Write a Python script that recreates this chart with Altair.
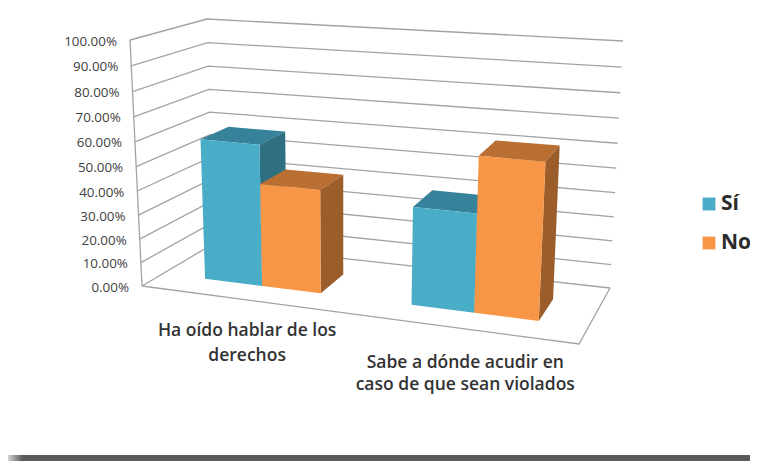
import altair as alt
import pandas as pd

# ---- chart values
categories = ["Ha oído hablar de los derechos", "Sabe a dónde acudir en caso de que sean violados"]
category_lines = [["Ha oído hablar de los", "derechos"], ["Sabe a dónde acudir en", "caso de que sean violados"]]
series = ["Sí", "No"]
si_values = [59, 40]
no_values = [43, 62.5]
ticks = [0, 10, 20, 30, 40, 50, 60, 70, 80, 90, 100]
tick_labels = [f"{t}.00%" for t in ticks]

# ---- 3D box of the plot, in picture pixels: (front/back, left/right, bottom/top)
FLB, FRB, BLB, BRB = (142, 286), (579, 344), (213, 244), (610, 288)
FLT, FRT, BLT, BRT = (130, 40), (593, 74), (207, 19), (623, 41)
PERSP_X, PERSP_Y = 1.10, 1.06
DEPTH = (0.3, 0.7)
BAR = 0.143
CENTERS = [0.25, 0.75]

colors = {
    "Sí front": "#4AADC8", "Sí top": "#35829A", "Sí side": "#2F6F82",
    "No front": "#F79646", "No top": "#B96F31", "No side": "#9B5D29",
}


def lerp(a, b, k):
    return (a[0] + (b[0] - a[0]) * k, a[1] + (b[1] - a[1]) * k)


def project(t, val, w):
    u = t / (t + (1 - t) * PERSP_X)
    p = val / 100
    v = p / (p + (1 - p) * PERSP_Y)
    bottom = lerp(lerp(FLB, FRB, u), lerp(BLB, BRB, u), w)
    top = lerp(lerp(FLT, FRT, u), lerp(BLT, BRT, u), w)
    return lerp(bottom, top, v)


# walls and floor
lines = []


def add_line(key, pts):
    for i, (x, y) in enumerate(pts):
        lines.append({"key": key, "ord": i, "x": x, "y": y})


for t in ticks:
    add_line(f"grid{t}", [project(0, t, 0), project(0, t, 1), project(1, t, 1)])
add_line("front-vertical", [project(0, 0, 0), project(0, 100, 0)])
add_line("floor", [project(0, 0, 0), project(1, 0, 0), project(1, 0, 1)])
lines_df = pd.DataFrame(lines)

# bars
faces = []


def add_face(key, shade, pts):
    for i, (x, y) in enumerate(pts):
        faces.append({"key": key, "ord": i, "x": x, "y": y, "shade": shade})


w0, w1 = DEPTH
for c, center in enumerate(CENTERS):
    for s, (name, vals) in enumerate(zip(series, [si_values, no_values])):
        a = center - BAR + s * BAR
        b = a + BAR
        val = vals[c]
        k = f"{c}{s}"
        add_face(k + "a", f"{name} top", [project(a, val, w0), project(b, val, w0), project(b, val, w1), project(a, val, w1)])
        add_face(k + "b", f"{name} side", [project(b, 0, w0), project(b, val, w0), project(b, val, w1), project(b, 0, w1)])
        add_face(k + "c", f"{name} front", [project(a, 0, w0), project(b, 0, w0), project(b, val, w0), project(a, val, w0)])
faces_df = pd.DataFrame(faces)

# text
tick_df = pd.DataFrame(
    [{"x": project(0, t, 0)[0], "y": project(0, t, 0)[1], "label": l} for t, l in zip(ticks, tick_labels)]
)
cat_rows = []
for center, rows in zip(CENTERS, category_lines):
    ax, ay = project(center, 0, 0)
    for i, line in enumerate(rows):
        cat_rows.append({"x": ax + 3.5, "y": ay + (32 if center < 0.5 else 35) + i * (25 if center < 0.5 else 22), "label": line})
cat_df = pd.DataFrame(cat_rows)

legend_x = [709, 709]
legend_text_x = [721, 721]
legend_y = [204, 243]
legend_df = pd.DataFrame({"x": legend_x, "tx": legend_text_x, "y": legend_y, "name": series})

strip_df = pd.DataFrame({"x": [3], "x2": [750], "y": [455], "y2": [461]})

X = alt.Scale(domain=[8, 750], range=[0, 742], nice=False, zero=False)
Y = alt.Scale(domain=[461, 8], nice=False, zero=False)
x = alt.X("x:Q", scale=X, axis=None)
y = alt.Y("y:Q", scale=Y, axis=None)

strip = alt.Chart(strip_df).mark_rect(
    color=alt.LinearGradient(
        gradient="linear", x1=0, x2=1, y1=0, y2=0,
        stops=[
            alt.GradientStop(offset=0, color="#ffffff"),
            alt.GradientStop(offset=0.026, color="#5a5a5a"),
            alt.GradientStop(offset=1, color="#5a5a5a"),
        ],
    )
).encode(x=x, x2="x2:Q", y=y, y2="y2:Q")

grid = alt.Chart(lines_df).mark_line(color="#A3A3A3", strokeWidth=1.3).encode(
    x=x, y=y, detail="key:N", order="ord:Q"
)

bars = alt.Chart(faces_df).mark_line(filled=True, interpolate="linear-closed", strokeWidth=0).encode(
    x=x, y=y, detail="key:N", order="ord:Q",
    color=alt.Color("shade:N", scale=alt.Scale(domain=list(colors), range=list(colors.values())), legend=None),
)

tick_text = alt.Chart(tick_df).mark_text(
    align="right", baseline="middle", dx=-13, dy=1.5, font="Open Sans", fontSize=13.4, color="#404040"
).encode(x=x, y=y, text="label:N")

cat_text = alt.Chart(cat_df).mark_text(
    align="center", baseline="middle", font="Open Sans", fontSize=17.5, fontWeight=600, color="#333333"
).encode(x=x, y=y, text="label:N")

leg_sq = alt.Chart(legend_df).mark_square(size=165, opacity=1).encode(
    x=x, y=y,
    color=alt.Color("name:N", scale=alt.Scale(domain=series, range=["#4AADC8", "#F79646"]), legend=None),
)
leg_text = alt.Chart(legend_df).mark_text(
    align="left", baseline="middle", font="Open Sans", fontSize=21, fontWeight=700, color="#2b2b2b"
).encode(x=alt.X("tx:Q", scale=X, axis=None), y=y, text="name:N")

chart = (
    alt.layer(strip, grid, bars, tick_text, cat_text, leg_sq, leg_text)
    .resolve_scale(color="independent")
    .properties(width=742, height=453, padding=0, autosize=alt.AutoSizeParams(type="none"), background="white")
    .configure_view(stroke=None)
)
chart.save("out.html", embed_options={"renderer": "svg", "actions": False})
